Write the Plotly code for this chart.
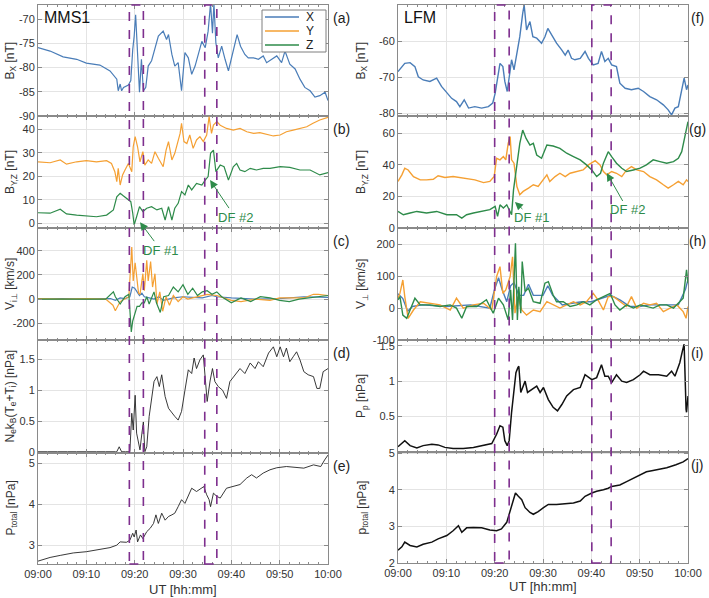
import plotly.graph_objects as go

W, H = 709, 598

# ---------------- DATA (time in minutes after 09:00) ----------------
tick_minutes = [0, 10, 20, 30, 40, 50, 60]
tick_labels = ["09:00", "09:10", "09:20", "09:30", "09:40", "09:50", "10:00"]
component_names = ["X", "Y", "Z"]

# MMS1 Bx
mms_bx_t = [0, 2.5, 5.2, 8, 10, 12.8, 14.9, 16.3, 16.6, 17, 17.3, 17.7, 18.7, 19.2, 19.6, 19.9, 20.2, 20.6, 21, 21.4, 21.8,
            22.3, 22.8, 23.5, 24.2, 24.9, 25.9, 26.6, 27.0, 27.7, 28.3, 29, 29.7, 30.4, 31.1, 31.8, 32.5, 33.2, 33.9, 34.6,
            35.2, 35.7, 36.1, 36.4, 36.8, 37.3, 38, 38.7, 39.4, 39.9, 40.4, 41.2, 41.9, 42.8, 43.5, 44.6, 45.6, 46.6, 47.3,
            48.3, 49.4, 50.4, 51.1, 52.1, 53.2, 54.2, 55.2, 56.3, 57.3, 58.3, 59.4, 60]
mms_bx = [-75.9, -76.6, -77.8, -78.3, -79.1, -79.5, -80.7, -82.4, -84.8, -83.4, -84.8, -84.1, -83.6, -82.7, -76.3, -73.5,
          -69.1, -78.6, -85.1, -78.3, -84.8, -84.1, -79.7, -78.6, -76.3, -73.5, -72.5, -74.2, -73.2, -77.3, -79.7, -79.0,
          -84.8, -76.9, -78.0, -81.4, -79.7, -77.3, -74.6, -75.9, -72.5, -66.8, -72.9, -66.8, -74.9, -78.0, -75.6, -78.3,
          -80.7, -78.6, -76.3, -73.2, -75.6, -77.3, -78.0, -78.0, -78.3, -77.6, -79.0, -78.3, -77.6, -79.0, -76.6, -79.3,
          -80.3, -82.4, -84.1, -84.8, -86.1, -85.8, -85.1, -86.8]

# MMS1 By
mms_by_t = [0, 2.5, 4.6, 5.9, 8, 10, 12.1, 14.2, 15.2, 15.9, 16.3, 16.6, 17, 17.5, 18, 18.7, 19.4, 19.7, 20.1, 20.6, 21.1,
            21.7, 22.1, 22.8, 23.5, 24.2, 24.9, 25.9, 26.5, 27, 27.7, 28.3, 29.4, 29.7, 30.2, 30.8, 31.4, 32.1, 32.8, 33.5,
            34.2, 34.9, 35.4, 35.9, 36.3, 37, 37.7, 39, 40.4, 41.8, 43.2, 44.6, 45.9, 47.3, 48.7, 50.1, 51.4, 52.8, 54.2,
            55.6, 56.9, 58.3, 60]
mms_by = [26.2, 25.8, 27.0, 25.2, 26.2, 26.7, 26.2, 26.7, 25.5, 22.0, 17.7, 23.4, 16.3, 20.6, 22.7, 25.5, 22.0, 32.6, 36.9,
          32.6, 26.2, 30.5, 24.8, 27.0, 25.5, 30.5, 27.7, 24.1, 31.2, 34.8, 27.0, 29.8, 38.3, 42.6, 34.8, 34.0, 37.6, 31.9,
          35.5, 36.9, 34.8, 37.6, 45.4, 38.3, 41.8, 43.3, 41.8, 40.4, 39.7, 40.4, 39.0, 38.3, 38.6, 38.0, 37.2, 37.6, 39.0,
          39.7, 40.4, 41.1, 42.6, 44.0, 45.1]

# MMS1 Bz
mms_bz_t = [0, 2.5, 4.6, 5.9, 8, 10, 12.1, 14.2, 15.6, 16.3, 17, 17.7, 18.7, 19.2, 19.6, 19.9, 20.4, 21, 21.7, 22.5, 23.5,
            24.6, 25.6, 26.3, 27, 27.7, 28.3, 29, 29.7, 30.4, 31.1, 31.8, 32.8, 33.9, 34.6, 35.2, 35.7, 36.3, 36.8, 37.7,
            38.5, 39.4, 40.4, 41.1, 41.8, 42.8, 43.9, 45.2, 46.6, 48, 50.1, 52.1, 54.2, 56.3, 58.3, 60]
mms_bz = [4.5, 4.3, 6.0, 4.0, 3.5, 3.1, 2.8, 3.5, 5.7, 11.3, 12.8, 11.6, 9.9, 9.2, 4.3, -0.7, 2.8, 7.1, 5.0, 6.4, 7.1, 5.7,
          6.4, 1.4, 7.1, 1.4, 6.4, 8.5, 13.5, 12.1, 16.3, 14.2, 17.0, 16.3, 18.4, 19.9, 29.8, 31.2, 22.0, 24.8, 24.1, 18.4,
          24.1, 25.5, 22.7, 22.0, 23.4, 22.7, 23.4, 23.4, 24.1, 23.8, 22.7, 22.7, 20.6, 21.6]

# MMS1 ion perpendicular velocity
mms_vx_t = [0, 5, 10, 15, 16, 17, 18, 19, 19.5, 20, 20.5, 21, 21.5, 22, 23, 24, 25, 26, 28, 30, 32, 34, 36, 37, 40, 45, 50,
            55, 60]
mms_vx = [0, 5, 0, 5, -10, 10, 5, 20, 100, 90, 60, 30, 50, 20, 10, 0, 20, -10, 10, 20, 15, 10, 30, 20, 10, 0, 5, 20, 15]
mms_vy_t = [0, 5, 10, 14, 15.5, 16, 17, 18, 18.8, 19.4, 19.7, 20.1, 20.4, 20.8, 21.1, 21.7, 22.0, 22.5, 22.8, 23.3, 23.7,
            24.2, 24.6, 25.2, 25.8, 26.5, 27.2, 28, 29, 30, 31, 33, 35, 37, 40, 42, 45, 48, 50, 52, 55, 57, 58, 60]
mms_vy = [5, 0, 5, 0, -50, -95, -20, 0, 20, 430, 150, 300, 180, 50, 40, 210, 70, 320, 150, 310, 100, 210, -40, 60, -100,
          20, -50, 30, -20, 20, 0, 20, 40, 30, -10, -20, 0, -10, 10, 10, 10, 40, 40, 30]
mms_vz_t = [0, 5, 10, 14, 15.6, 16, 17, 18, 18.8, 19.3, 19.6, 20.0, 20.5, 21, 21.5, 22, 22.5, 23, 23.5, 24, 24.5, 25.3, 26,
            27, 28, 29, 30, 31, 32, 33, 34, 35, 36, 37, 38, 40, 42, 44, 46, 48, 50, 52, 54, 56, 58, 60]
mms_vz = [0, 0, -5, 0, 60, 20, -40, 20, 40, -270, -180, -120, -60, -60, -30, -30, 20, -40, 10, 60, -30, -110, 20, 30, 100,
          60, 120, 40, 90, 30, 60, 70, 40, 60, 20, -30, 10, -20, 20, 10, -10, -20, 0, 10, 20, 30]

# MMS1 thermal pressure
mms_p_t = [0, 5, 10, 15, 16.3, 16.8, 17.3, 19, 19.4, 19.7, 20.1, 20.4, 20.8, 21.1, 21.5, 21.8, 22.1, 22.5, 23, 23.5, 24,
           24.6, 25.1, 25.6, 26.3, 27, 27.7, 28.3, 29, 29.7, 30.4, 31.1, 31.8, 32.3, 32.8, 33.5, 34.2, 34.6, 35, 35.6,
           36.1, 36.6, 37.3, 38.2, 39, 39.7, 40.8, 41.8, 42.8, 43.9, 44.9, 45.6, 46.6, 47.7, 48.7, 49.4, 50.1, 50.8, 51.4,
           52.1, 52.8, 53.5, 54.2, 55, 55.9, 57, 57.7, 58.3, 59, 60]
mms_p = [0.01, 0.01, 0.0, 0.01, 0.01, 0.09, 0.01, 0.01, 0.63, 0.36, 0.92, 0.31, 0.15, 0.04, 0.31, 0.49, 0.01, 0.09, 0.58,
         0.90, 1.14, 1.22, 1.06, 1.25, 0.90, 0.71, 0.63, 0.58, 0.52, 0.66, 1.0, 1.33, 1.27, 1.52, 1.35, 1.49, 1.57, 1.11,
         0.82, 1.15, 1.35, 1.14, 1.06, 1.0, 0.87, 1.14, 1.25, 1.35, 1.27, 1.44, 1.35, 1.46, 1.38, 1.60, 1.70, 1.54, 1.70,
         1.54, 1.68, 1.46, 1.54, 1.62, 1.49, 1.30, 1.25, 1.22, 1.03, 1.03, 1.30, 1.35]

# MMS1 total pressure
mms_pt_t = [0, 2.5, 4.6, 7.3, 10, 12.8, 14.9, 16.3, 17, 18.3, 19, 19.6, 19.9, 20.3, 20.6, 21.2, 21.7, 22.5, 23.2, 23.9,
            24.4, 24.9, 25.6, 26.3, 27, 27.7, 28.3, 29, 29.7, 30.4, 31.1, 31.8, 32.8, 33.9, 34.3, 34.9, 35.4, 35.7, 36.3,
            37, 37.7, 39, 40.4, 41.8, 43.2, 44.2, 45.2, 46.6, 48, 49.4, 51.4, 53, 55, 57, 58.5, 59.3, 60]
mms_pt = [2.61, 2.70, 2.75, 2.81, 2.84, 2.89, 2.94, 3.0, 3.08, 3.07, 3.12, 3.29, 3.2, 3.37, 3.08, 3.25, 3.16, 3.33, 3.41,
          3.53, 3.74, 3.53, 3.78, 3.61, 3.70, 3.74, 3.78, 3.94, 4.11, 4.02, 4.23, 4.39, 4.31, 4.39, 4.43, 4.23, 4.11, 3.94,
          4.27, 4.19, 4.15, 4.39, 4.43, 4.48, 4.64, 4.72, 4.64, 4.76, 4.84, 4.89, 4.92, 4.90, 4.88, 4.96, 4.92, 5.08, 5.2]

# LFM Bx
lfm_bx_t = [0, 0.8, 1.4, 2.5, 3.5, 4.2, 5.2, 6.6, 8, 9, 10.1, 11.1, 12.1, 12.8, 13.7, 14.6, 15.9, 17.3, 18.7, 19.6, 20.1,
            20.8, 21.1, 21.7, 22.1, 22.6, 23, 23.5, 24, 24.6, 25.2, 25.8, 26.1, 26.6, 27.3, 27.9, 28.7, 29.7, 30.4, 31,
            31.4, 32.1, 32.8, 33.9, 34.6, 35.2, 35.9, 36.6, 37.7, 38.7, 39.4, 40.4, 41.4, 42.1, 42.8, 43.5, 44.2, 45.2,
            45.9, 47, 48.3, 49.7, 50.8, 52.1, 53.5, 54.9, 55.9, 56.6, 57.3, 58, 58.7, 59.2, 59.7, 60]
lfm_bx = [-68.5, -67.1, -66.2, -66.0, -67.1, -69.9, -70.8, -71.2, -70.3, -72.6, -74.5, -75.9, -76.8, -78.2, -76.3, -78.6,
          -78.2, -78.6, -78.2, -77.2, -74.5, -68.9, -66.2, -67.1, -71.2, -74.0, -69.9, -65.2, -68.0, -63.4, -58.8, -52.3,
          -50.0, -56.9, -54.6, -58.8, -59.2, -60.6, -58.8, -56.5, -57.4, -59.2, -60.6, -62.5, -63.9, -62.5, -64.8, -65.2,
          -64.8, -62.9, -64.8, -66.6, -66.2, -62.9, -65.7, -64.8, -66.6, -67.1, -71.7, -73.1, -73.5, -73.1, -74.0, -75.4,
          -76.3, -77.7, -79.1, -80.5, -78.6, -78.2, -74.0, -70.3, -73.5, -72.2]

# LFM By
lfm_by_t = [0, 0.8, 1.4, 2.1, 3.2, 4.6, 5.9, 7.3, 8.3, 9.7, 11.4, 12.8, 14.2, 15.9, 17.7, 19, 19.9, 20.4, 21.1, 21.8, 22.3,
            22.8, 23.2, 23.5, 24, 24.6, 25.2, 25.9, 27, 28, 29, 30.1, 30.8, 31.4, 32.5, 33.5, 34.6, 35.6, 37, 38.3, 39.4,
            40.8, 41.8, 42.5, 43.2, 44.2, 45.2, 46.3, 47.3, 48.3, 49.4, 50.8, 52.1, 53.5, 54.9, 55.9, 57, 58, 59, 59.7, 60]
lfm_by = [29.5, 33.7, 37.9, 36.8, 32.6, 30.5, 30.5, 30.9, 33.1, 32.0, 32.6, 32.0, 31.6, 30.5, 28.8, 29.5, 32.6, 44.2, 43.2,
          45.3, 43.2, 53.7, 57.9, 43.2, 41.1, 26.3, 21.1, 23.2, 25.3, 27.4, 26.3, 30.5, 33.7, 29.5, 32.6, 34.7, 32.6, 34.7,
          35.8, 36.8, 40.0, 42.7, 40.0, 35.8, 33.7, 35.8, 34.7, 32.6, 36.8, 38.9, 36.8, 35.8, 32.6, 30.5, 27.4, 25.3, 27.4,
          29.5, 27.4, 30.5, 29.5]

# LFM Bz
lfm_bz_t = [0, 1.1, 2.5, 3.9, 5.9, 8, 10.1, 12.1, 13.2, 14.2, 15.6, 17.3, 19, 20.1, 20.6, 21.1, 21.8, 22.5, 23, 23.5, 23.9,
            24.6, 25.2, 25.8, 26.5, 27.3, 28, 28.7, 29.7, 30.8, 32.1, 33.5, 34.9, 36.3, 37.7, 39, 40.1, 41.1, 41.9, 42.5,
            43.5, 44.2, 45.2, 46.3, 47.3, 48.7, 50.1, 51.4, 52.8, 54.2, 55.6, 57, 58, 58.7, 59.4, 60]
lfm_bz = [10.5, 8.4, 9.5, 10.5, 9.5, 10.5, 8.4, 8.4, 6.3, 8.4, 9.5, 10.5, 11.6, 13.7, 7.4, 14.7, 12.6, 14.7, 11.6, 8.4,
          24.2, 38.9, 53.7, 62.1, 56.8, 52.6, 53.7, 46.3, 44.2, 52.6, 52.0, 50.5, 47.4, 45.3, 43.2, 40.0, 36.8, 32.6, 34.7,
          41.1, 48.4, 45.3, 41.1, 37.9, 35.8, 36.8, 37.9, 40.0, 43.2, 42.1, 41.1, 42.1, 44.2, 48.4, 57.9, 67.4]

# LFM perpendicular velocity
lfm_vx_t = [0, 1, 2, 3, 5, 10, 15, 19, 20, 20.8, 21.5, 22.5, 23.3, 24, 25, 26, 27, 28, 30, 31, 32, 34, 36, 38, 40, 42, 44,
            46, 48, 50, 52, 55, 58, 59.5, 60]
lfm_vx = [45, 30, -10, 5, 10, 5, 10, 0, 60, 95, 60, 20, 70, 80, 40, 40, 75, 40, 40, 70, 40, 10, 15, 20, 20, 30, 40, 25, 5,
          5, 10, 10, 10, 60, 90]
lfm_vy_t = [0, 0.4, 1, 1.4, 2.1, 3.2, 4.6, 6.6, 8.7, 10.8, 12.1, 13.5, 15.6, 17.7, 19.4, 20.4, 21.1, 21.7, 22.3, 23.2, 23.7,
            24.2, 24.8, 25.6, 26.6, 28, 29.4, 30.8, 32.1, 33.5, 34.9, 36.3, 37.7, 39, 40.4, 41.4, 42.5, 43.5, 44.6, 45.9,
            47.3, 48.3, 49.4, 50.8, 52.1, 53.5, 54.9, 56.3, 57.7, 59, 59.6, 60]
lfm_vy = [31, 46, 88, 36, -32, -6, 20, 15, 10, -6, 31, 0, 10, 15, -6, 99, 130, 46, 57, 99, 161, -16, 36, -6, -22, -6, -11,
          20, 10, 0, 10, 20, 10, 20, 46, 25, -6, 36, 36, 20, 5, 36, 0, 15, 10, 15, -11, 0, 10, -11, -32, 5]
lfm_vz_t = [0, 0.4, 1, 1.8, 2.5, 3.5, 4.6, 6.6, 8.7, 10.8, 12.1, 13.2, 14.2, 16.3, 18.3, 19.7, 20.8, 21.8, 22.8, 23.3, 23.7,
            24.1, 24.3, 24.7, 25, 25.4, 25.7, 26.3, 27, 28, 29.4, 30.4, 31.1, 32.1, 32.8, 34.2, 35.6, 37, 38.3, 39.7, 41.1,
            42.5, 43.9, 44.9, 45.9, 47.3, 48.7, 50.1, 51.4, 52.8, 54.2, 55.6, 57, 58, 59, 59.7, 60]
lfm_vz = [26, 36, -22, -32, -6, 31, 10, 10, 5, 10, 0, -32, 5, 5, 26, -16, 31, 10, -37, 57, -37, 120, 203, -37, 67, -16, 146,
          52, 62, 20, 15, 78, 83, 41, 20, 20, 5, 10, 20, 10, 26, 36, 46, 10, -6, 10, 0, 10, 5, 0, 10, 10, 0, 15, 31, 120, 78]

# LFM plasma pressure
lfm_pp_t = [0, 1.4, 2.5, 3.9, 5.2, 7, 8.3, 9.7, 11.4, 13.5, 15.6, 17.7, 19.4, 20.4, 21.1, 21.7, 22.1, 22.6, 23, 23.5, 24,
            24.4, 24.8, 25, 25.4, 25.9, 26.3, 26.8, 27.7, 28.7, 29.4, 30.1, 31.1, 32.1, 33, 33.9, 34.9, 36.3, 37.7, 38.7,
            40.1, 41.1, 42.1, 42.8, 43.5, 44.2, 45.2, 46.3, 47.3, 48.7, 50.1, 50.8, 52.1, 53.9, 55.6, 56.6, 57.3, 58.3,
            58.9, 59.2, 59.6, 59.7, 60]
lfm_pp = [0.075, 0.16, 0.09, 0.056, 0.09, 0.11, 0.10, 0.065, 0.05, 0.05, 0.065, 0.10, 0.12, 0.25, 0.37, 0.35, 0.16, 0.09,
          0.16, 0.56, 0.93, 1.12, 1.19, 1.21, 0.84, 0.93, 1.0, 0.84, 0.88, 0.93, 0.84, 0.91, 0.74, 0.63, 0.58, 0.67, 0.79,
          0.88, 0.91, 1.09, 1.02, 1.05, 1.23, 1.07, 1.07, 0.98, 1.09, 1.0, 0.98, 1.02, 1.09, 1.14, 1.09, 1.09, 1.07, 1.14,
          1.07, 1.26, 1.44, 1.52, 0.60, 0.56, 0.79]

# LFM total pressure
lfm_pt_t = [0, 0.8, 1.4, 2.5, 3.9, 5.2, 7, 8.3, 10.1, 11.4, 12.5, 13.2, 14.2, 15.6, 17.3, 19, 20.4, 21.4, 22.5, 23.2, 23.9,
            24.3, 24.9, 25.6, 26.3, 27.3, 28, 29, 30.1, 31.1, 32.8, 34.6, 36.3, 37.7, 38.7, 40.1, 41.1, 42.5, 43.5, 44.2,
            45.9, 47.3, 48.7, 50.1, 51.4, 52.5, 54, 55.6, 57.5, 59, 60]
lfm_pt = [2.35, 2.44, 2.57, 2.48, 2.44, 2.51, 2.57, 2.66, 2.75, 2.88, 3.02, 2.84, 2.96, 2.97, 2.96, 2.90, 2.88, 2.93, 3.11,
          3.42, 3.78, 3.91, 3.82, 3.73, 3.51, 3.38, 3.33, 3.40, 3.51, 3.60, 3.60, 3.62, 3.64, 3.69, 3.82, 3.91, 3.96, 4.0,
          4.04, 4.09, 4.13, 4.22, 4.31, 4.40, 4.49, 4.52, 4.55, 4.60, 4.68, 4.76, 4.85]

# Dipolarization-front intervals (dashed boxes), minutes after 09:00
mms_boxes = [[18.9, 21.8], [34.5, 37.0]]
lfm_boxes = [[20.0, 23.0], [40.1, 44.1]]

# ---------------- STYLE ----------------
BLUE, ORANGE, GREEN, PURPLE = "#4A7DB8", "#F5A033", "#2E8B4A", "#7E2F8E"
COMP_COLORS = [BLUE, ORANGE, GREEN]
FONT = "Liberation Sans, Arial, sans-serif"
AX = "#8a8a8a"
GRID = "#e4e4e4"

left_px = (38, 328)
right_px = (398, 688)
left_rows = [(5, 116), (116, 228), (228, 340), (340, 453), (453, 564)]
right_rows = [(5, 116), (116, 228), (228, 340), (340, 452), (452, 563)]

y_ranges = [[-90, -67.1], [-2, 45.7], [-337, 587], [-0.01, 1.81], [2.54, 5.25],
            [-80.8, -50], [0, 71], [-100, 251], [0.0, 1.58], [2, 5.03]]
y_ticks = [[-90, -85, -80, -75, -70], [0, 10, 20, 30, 40], [-200, 0, 200, 400], [0, 0.5, 1, 1.5], [3, 4, 5],
           [-80, -70, -60, -50], [0, 20, 40, 60], [-100, 0, 100, 200], [0.5, 1, 1.5], [2, 3, 4, 5]]
y_titles = ["B<sub>X</sub> [nT]", "B<sub>Y,Z</sub> [nT]", "V<sub>i\u22a5</sub> [km/s]",
            "N<sub>e</sub>k<sub>B</sub>(T<sub>e</sub>+T<sub>i</sub>) [nPa]", "P<sub>total</sub> [nPa]",
            "B<sub>X</sub> [nT]", "B<sub>Y,Z</sub> [nT]", "V<sub>\u22a5</sub> [km/s]", "P<sub>p</sub> [nPa]",
            "p<sub>total</sub> [nPa]"]
panel_letters = ["(a)", "(b)", "(c)", "(d)", "(e)", "(f)", "(g)", "(h)", "(i)", "(j)"]


def fmt(v):
    return "%g" % v


fig = go.Figure()
layout = dict(width=W, height=H, margin=dict(l=0, r=0, t=0, b=0),
              paper_bgcolor="white", plot_bgcolor="white",
              font=dict(family=FONT, size=11, color="#333333"),
              showlegend=False)
annotations = []
shapes = []

for i in range(10):
    n = i + 1
    left = i < 5
    xp = left_px if left else right_px
    top, bot = (left_rows if left else right_rows)[i % 5]
    is_bottom = (i % 5) == 4
    xkey = "xaxis" if n == 1 else "xaxis%d" % n
    ykey = "yaxis" if n == 1 else "yaxis%d" % n
    layout[xkey] = dict(domain=[xp[0] / W, xp[1] / W], anchor="y" if n == 1 else "y%d" % n,
                        range=[0, 60], tickvals=tick_minutes, ticktext=tick_labels,
                        showticklabels=is_bottom, ticklabelstandoff=0,
                        showgrid=True, gridcolor=GRID, gridwidth=1, zeroline=False,
                        showline=True, linecolor=AX, linewidth=1, mirror="allticks",
                        ticks="inside", ticklen=4, tickcolor=AX,
                        minor=dict(dtick=2, tick0=0, ticks="inside", ticklen=2, tickcolor=AX, showgrid=False),
                        tickfont=dict(size=11, color="#333333"), automargin=False)
    layout[ykey] = dict(domain=[1 - bot / H, 1 - top / H], anchor="x" if n == 1 else "x%d" % n,
                        range=y_ranges[i], tickvals=y_ticks[i], ticktext=[fmt(v) for v in y_ticks[i]],
                        showgrid=True, gridcolor=GRID, gridwidth=1, zeroline=False,
                        showline=True, linecolor=AX, linewidth=1, mirror="allticks",
                        ticks="inside", ticklen=4, tickcolor=AX,
                        tickfont=dict(size=11, color="#333333"), automargin=False)
    # y title
    tx = 11 if left else 362
    annotations.append(dict(xref="paper", yref="paper", x=tx / W, y=1 - (top + bot) / 2 / H,
                            text=y_titles[i], textangle=-90, showarrow=False,
                            xanchor="center", yanchor="middle", font=dict(size=12, color="#333333")))
    # panel letter
    lx = 341 if left else 697
    annotations.append(dict(xref="paper", yref="paper", x=lx / W, y=1 - (top + 13) / H,
                            text=panel_letters[i], showarrow=False, xanchor="center", yanchor="middle",
                            font=dict(size=14, color="#222222")))

for xcenter, yc in ((183, 589), (543, 586)):
    annotations.append(dict(xref="paper", yref="paper", x=xcenter / W, y=1 - yc / H, text="UT [hh:mm]",
                            showarrow=False, xanchor="center", yanchor="middle",
                            font=dict(size=13, color="#333333")))

annotations.append(dict(xref="paper", yref="paper", x=42 / W, y=1 - 18 / H, text="MMS1", showarrow=False,
                        xanchor="left", yanchor="middle", font=dict(size=16, color="#111111")))
annotations.append(dict(xref="paper", yref="paper", x=402 / W, y=1 - 18 / H, text="LFM", showarrow=False,
                        xanchor="left", yanchor="middle", font=dict(size=16, color="#111111")))


def add(x, y, ax, color, width, name=""):
    fig.add_trace(go.Scatter(x=x, y=y, mode="lines", xaxis="x" if ax == 1 else "x%d" % ax,
                             yaxis="y" if ax == 1 else "y%d" % ax,
                             line=dict(color=color, width=width), name=name,
                             showlegend=False, hoverinfo="skip"))


add(mms_bx_t, mms_bx, 1, BLUE, 1.2, "X")
add(mms_by_t, mms_by, 2, ORANGE, 1.2, "Y")
add(mms_bz_t, mms_bz, 2, GREEN, 1.2, "Z")
add(mms_vx_t, mms_vx, 3, BLUE, 1.2)
add(mms_vy_t, mms_vy, 3, ORANGE, 1.2)
add(mms_vz_t, mms_vz, 3, GREEN, 1.2)
add(mms_p_t, mms_p, 4, "#222222", 0.9)
add(mms_pt_t, mms_pt, 5, "#222222", 0.9)

add(lfm_bx_t, lfm_bx, 6, BLUE, 1.4)
add(lfm_by_t, lfm_by, 7, ORANGE, 1.4)
add(lfm_bz_t, lfm_bz, 7, GREEN, 1.4)
add(lfm_vx_t, lfm_vx, 8, BLUE, 1.4)
add(lfm_vy_t, lfm_vy, 8, ORANGE, 1.4)
add(lfm_vz_t, lfm_vz, 8, GREEN, 1.4)
add(lfm_pp_t, lfm_pp, 9, "#111111", 1.5)
add(lfm_pt_t, lfm_pt, 10, "#111111", 1.5)

# dashed DF boxes spanning all panels
for (t0, t1) in mms_boxes:
    shapes.append(dict(type="rect", xref="x", yref="paper", x0=t0, x1=t1, y0=1 - 564 / H, y1=1 - 5 / H,
                       line=dict(color=PURPLE, width=1.6, dash="dash"), fillcolor="rgba(0,0,0,0)", layer="above"))
for (t0, t1) in lfm_boxes:
    shapes.append(dict(type="rect", xref="x6", yref="paper", x0=t0, x1=t1, y0=1 - 563 / H, y1=1 - 5 / H,
                       line=dict(color=PURPLE, width=1.6, dash="dash"), fillcolor="rgba(0,0,0,0)", layer="above"))

# legend box (MATLAB style) in panel (a)
lg_x0, lg_x1, lg_y0, lg_y1 = 262, 326, 10, 52
shapes.append(dict(type="rect", xref="paper", yref="paper", x0=lg_x0 / W, x1=lg_x1 / W,
                   y0=1 - lg_y1 / H, y1=1 - lg_y0 / H, line=dict(color="#7f7f7f", width=1),
                   fillcolor="white", layer="above"))
for k, (nm, col) in enumerate(zip(component_names, COMP_COLORS)):
    yy = 1 - (17 + 14 * k) / H
    shapes.append(dict(type="line", xref="paper", yref="paper", x0=265 / W, x1=299 / W, y0=yy, y1=yy,
                       line=dict(color=col, width=1.5), layer="above"))
    annotations.append(dict(xref="paper", yref="paper", x=304 / W, y=yy, text=nm, showarrow=False,
                            xanchor="left", yanchor="middle", font=dict(size=12, color="#222222")))

# DF arrows
df_notes = [("x2", "y2", 21.1, 0.5, 21, 28, "DF #1"),
            ("x2", "y2", 35.6, 18.4, 25, 37, "DF #2"),
            ("x7", "y7", 24.2, 16.5, 17, 16, "DF #1"),
            ("x7", "y7", 43.2, 34.9, 21, 37, "DF #2")]
for xr, yr, x, y, ax, ay, txt in df_notes:
    annotations.append(dict(xref=xr, yref=yr, x=x, y=y, ax=ax, ay=ay, text=txt, showarrow=True,
                            arrowhead=2, arrowsize=1.6, arrowwidth=1, arrowcolor=GREEN,
                            font=dict(size=13, color=GREEN)))

layout["annotations"] = annotations
layout["shapes"] = shapes
fig.update_layout(**layout)
fig.write_html("out.html", config={"displayModeBar": False},
               post_script="document.body.style.margin='0px';document.body.style.padding='0px';"
                           "document.body.style.overflow='hidden';")
